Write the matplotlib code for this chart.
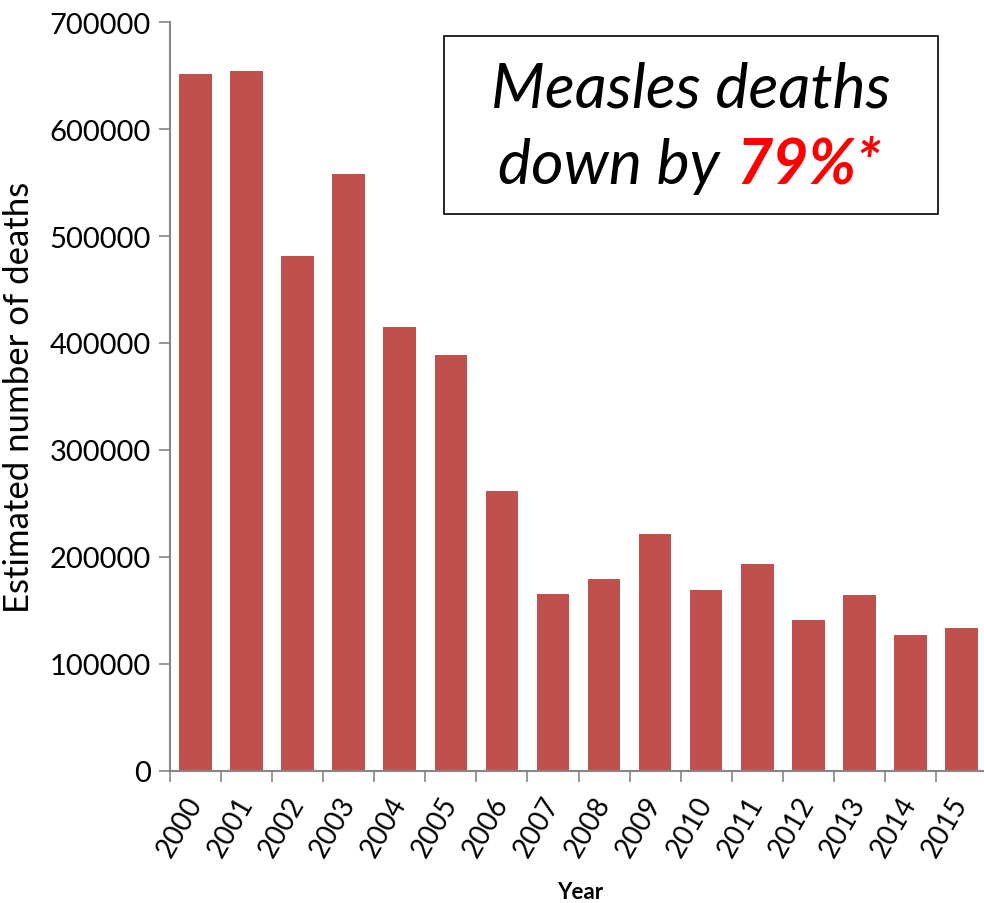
import numpy as np
import matplotlib
matplotlib.use('Agg')
import matplotlib.pyplot as plt
import matplotlib.patches as mpatches

# Estimated measles deaths per year
years  = ['2000', '2001', '2002', '2003', '2004', '2005', '2006', '2007',
          '2008', '2009', '2010', '2011', '2012', '2013', '2014', '2015']
deaths = [651600, 654400, 481600, 558300, 415200, 388700, 261800, 164800,
          179200, 221300, 168600, 192900, 140800, 164200, 126500, 133000]
y_ticks = [0, 100000, 200000, 300000, 400000, 500000, 600000, 700000]

BAR_COLOR  = '#C0504D'
AXIS_COLOR = '#868686'
FONT = ['Lato', 'DejaVu Sans']

W, H = 984, 904
fig = plt.figure(figsize=(W / 100, H / 100), dpi=100)
fig.patch.set_facecolor('white')

# axes: left spine at x=170, zero line at y=771.5, top (700000) at y=23.3
ax = fig.add_axes([170 / W, (H - 771.5) / H, 817 / W, 748.2 / H])

x = np.arange(len(years))
ax.bar(x, deaths, width=0.64, color=BAR_COLOR, edgecolor='none')

ax.set_xlim(-0.5, len(years) - 0.5)
ax.set_ylim(0, 700000)
ax.set_yticks(y_ticks)
ax.set_yticklabels([str(v) for v in y_ticks], fontsize=21, family=FONT)
ax.set_xticks(np.arange(len(years) + 1) - 0.5, minor=False)
ax.set_xticklabels([])
ax.set_xticks(x, minor=True)
ax.set_xticklabels(years, minor=True, rotation=60, ha='right', va='center',
                   rotation_mode='anchor', fontsize=20, family=FONT)

ax.tick_params(axis='y', which='major', direction='out', length=8,
               width=1.2, color=AXIS_COLOR, pad=6)
ax.tick_params(axis='x', which='major', direction='out', length=8,
               width=1.2, color=AXIS_COLOR)
ax.tick_params(axis='x', which='minor', length=0, pad=20)

for spine in ['top', 'right']:
    ax.spines[spine].set_visible(False)
for spine in ['left', 'bottom']:
    ax.spines[spine].set_color(AXIS_COLOR)
    ax.spines[spine].set_linewidth(1.5)

ax.set_ylabel('Estimated number of deaths', fontsize=25, family=FONT,
              labelpad=10)
fig.text(580 / W, 1 - 893 / H, 'Year', ha='center', va='center',
         fontsize=16, fontweight='bold', family=FONT)

# Callout box
box = mpatches.Rectangle((444 / W, 1 - 215 / H), 494 / W, 178 / H,
                         transform=fig.transFigure, fill=False,
                         edgecolor='black', linewidth=1.2)
fig.patches.append(box)
fig.text(691 / W, 1 - 107 / H, 'Measles deaths', ha='center',
         va='baseline', fontsize=45, style='italic', family=FONT)
fig.text(720 / W, 1 - 184 / H, 'down by', ha='right', va='baseline',
         fontsize=45, style='italic', family=FONT)
fig.text(736 / W, 1 - 184 / H, '79%*', ha='left', va='baseline',
         fontsize=45, style='italic', fontweight='bold', color='#FF0000',
         family=FONT)

plt.savefig('out.png', dpi=100, facecolor='white')
plt.close()
